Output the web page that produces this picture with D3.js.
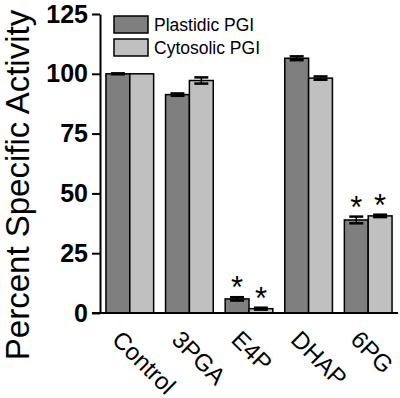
<!DOCTYPE html>
<html>
<head>
<meta charset="utf-8">
<script src="https://cdn.jsdelivr.net/npm/d3@7"></script>
<style>
  body { margin: 0; background: #fff; }
  svg { display: block; font-family: Arial, "Liberation Sans", sans-serif; }
</style>
</head>
<body>
<div id="chart"></div>
<script>
const categories = ["Control", "3PGA", "E4P", "DHAP", "6PG"];
const seriesNames = ["Plastidic PGI", "Cytosolic PGI"];
const plastidic = [100, 91.3, 5.9, 106.5, 38.9];
const plastidicErr = [0.2, 0.5, 0.7, 0.8, 1.4];
const cytosolic = [100, 97.2, 1.8, 98.2, 40.6];
const cytosolicErr = [0, 1.3, 0.4, 0.7, 0.5];
const significant = [[false, false], [false, false], [true, true], [false, false], [true, true]];
const yTicks = [0, 25, 50, 75, 100, 125];

const colors = ["#7f7f7f", "#c0c0c0"];
const width = 400, height = 398;
const margin = { top: 14, right: 2, bottom: 85, left: 100 };
const innerH = height - margin.top - margin.bottom;

const rows = categories.map((c, i) => ({
  cat: c,
  vals: [
    { s: 0, v: plastidic[i], e: plastidicErr[i], star: significant[i][0] },
    { s: 1, v: cytosolic[i], e: cytosolicErr[i], star: significant[i][1] }
  ]
}));

const svg = d3.select("#chart").append("svg")
  .attr("width", width).attr("height", height);

const g = svg.append("g").attr("transform", `translate(${margin.left},${margin.top})`);

const x = d3.scaleBand().domain(categories)
  .range([0, width - margin.left - margin.right])
  .paddingInner(0.2).paddingOuter(0.1);
const x1 = d3.scaleBand().domain([0, 1]).range([0, x.bandwidth()]);
const y = d3.scaleLinear().domain([0, 125]).range([innerH, 0]);

// bars
const grp = g.selectAll(".grp").data(rows).join("g")
  .attr("transform", d => `translate(${x(d.cat)},0)`);

grp.selectAll("rect").data(d => d.vals).join("rect")
  .attr("x", d => x1(d.s))
  .attr("y", d => y(d.v))
  .attr("width", x1.bandwidth())
  .attr("height", d => y(0) - y(d.v))
  .attr("fill", d => colors[d.s])
  .attr("stroke", "#000")
  .attr("stroke-width", 1.5);

// error bars
const eb = grp.selectAll(".eb").data(d => d.vals.filter(v => v.e > 0)).join("g");
const capW = 14;
eb.append("line")
  .attr("x1", d => x1(d.s) + x1.bandwidth() / 2)
  .attr("x2", d => x1(d.s) + x1.bandwidth() / 2)
  .attr("y1", d => y(d.v + d.e)).attr("y2", d => y(d.v - d.e))
  .attr("stroke", "#000").attr("stroke-width", 1.5);
[1, -1].forEach(sign => {
  eb.append("line")
    .attr("x1", d => x1(d.s) + x1.bandwidth() / 2 - capW / 2)
    .attr("x2", d => x1(d.s) + x1.bandwidth() / 2 + capW / 2)
    .attr("y1", d => y(d.v + sign * d.e)).attr("y2", d => y(d.v + sign * d.e))
    .attr("stroke", "#000").attr("stroke-width", 2.5);
});

// asterisks
grp.selectAll(".star").data(d => d.vals.filter(v => v.star)).join("text")
  .attr("x", d => x1(d.s) + x1.bandwidth() / 2)
  .attr("y", d => y(d.v + d.e) + 1)
  .attr("text-anchor", "middle")
  .style("font-size", "31px")
  .text("*");

// y axis
const yAxis = g.append("g")
  .call(d3.axisLeft(y).tickValues(yTicks).tickSize(8).tickPadding(4).tickSizeOuter(0));
yAxis.select(".domain").attr("stroke-width", 2);
yAxis.selectAll(".tick line").attr("stroke-width", 2);
yAxis.selectAll("text")
  .style("font-size", "25px").style("font-weight", "bold")
  .style("font-family", "Arial, 'Liberation Sans', sans-serif");

// x axis line
g.append("line")
  .attr("x1", -8).attr("x2", width - margin.left - margin.right)
  .attr("y1", y(0)).attr("y2", y(0))
  .attr("stroke", "#000").attr("stroke-width", 2);

// x labels
g.selectAll(".xl").data(categories).join("text")
  .attr("transform", d => `translate(${x(d) + x.bandwidth() / 2 - 19},${innerH + 28}) rotate(45)`)
  .style("font-size", "24px")
  .text(d => d);

// y title
svg.append("text")
  .attr("transform", `translate(29,${185}) rotate(-90)`)
  .attr("text-anchor", "middle")
  .style("font-size", "33px")
  .text("Percent Specific Activity");

// legend
const leg = svg.append("g").attr("transform", "translate(114,16)");
seriesNames.forEach((n, i) => {
  leg.append("rect")
    .attr("x", 0).attr("y", i * 23)
    .attr("width", 34).attr("height", 17)
    .attr("fill", colors[i]).attr("stroke", "#000").attr("stroke-width", 1.5);
  leg.append("text")
    .attr("x", 40).attr("y", i * 23 + 15)
    .style("font-size", "17.5px")
    .text(n);
});
</script>
</body>
</html>
